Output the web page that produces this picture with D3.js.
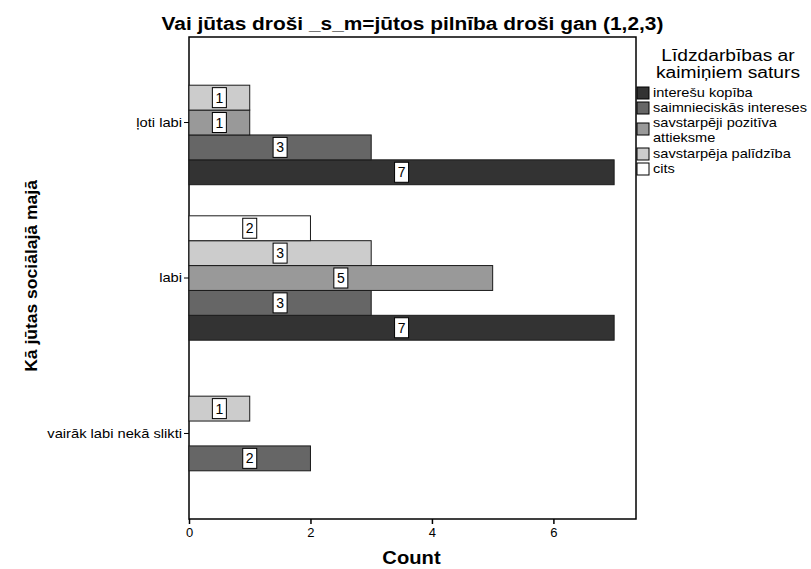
<!DOCTYPE html>
<html>
<head>
<meta charset="utf-8">
<script src="https://cdn.jsdelivr.net/npm/d3@7"></script>
<style>
  body { margin: 0; background: #fff; }
  svg { display: block; font-family: Arial, "Liberation Sans", sans-serif; }
</style>
</head>
<body>
<svg id="chart" width="811" height="569"></svg>
<script>
// Categories on the vertical axis
const categories = ["ļoti labi", "labi", "vairāk labi nekā slikti"];

// Series, listed in legend order (drawn bottom-up within each group)
const seriesNames = [
  "interešu kopība",
  "saimnieciskās intereses",
  "savstarpēji pozitīva attieksme",
  "savstarpēja palīdzība",
  "cits"
];
const seriesColors = ["#333333", "#666666", "#999999", "#cccccc", "#ffffff"];

// Counts per category (null = no bar)
const interesuKopiba     = [7, 7, null];
const saimnieciskas      = [3, 3, 2];
const pozitivaAttieksme  = [1, 5, null];
const savstarpejaPalidz  = [1, 3, 1];
const cits               = [null, 2, null];
const seriesValues = [interesuKopiba, saimnieciskas, pozitivaAttieksme, savstarpejaPalidz, cits];

const xTicks = [0, 2, 4, 6];

const FONT = "Arial, 'Liberation Sans', sans-serif";
const svg = d3.select("#chart");
const plot = { left: 189, right: 636, top: 37, bottom: 519 };

// Widen glyphs horizontally by factor k (keeps anchor behaviour)
function stretch(sel, k) {
  sel.each(function () {
    const w = this.getComputedTextLength();
    d3.select(this).attr("textLength", w * k).attr("lengthAdjust", "spacingAndGlyphs");
  });
}

const x = d3.scaleLinear().domain([0, 7.36]).range([plot.left, plot.right]);
const y = d3.scaleBand().domain(categories).range([plot.top, plot.bottom])
  .paddingInner(0.2).paddingOuter(0.15);
// within a group the last series sits on top
const ySub = d3.scaleBand().domain(seriesNames.slice().reverse()).range([0, y.bandwidth()]);

// Plot frame
svg.append("rect")
  .attr("x", plot.left).attr("y", plot.top)
  .attr("width", plot.right - plot.left).attr("height", plot.bottom - plot.top)
  .attr("fill", "none").attr("stroke", "#000").attr("stroke-width", 1.5);

// Bars
const barData = [];
seriesNames.forEach((s, si) => {
  categories.forEach((c, ci) => {
    const v = seriesValues[si][ci];
    if (v != null) barData.push({ series: s, cat: c, value: v, color: seriesColors[si] });
  });
});

const bars = svg.append("g");
bars.selectAll("rect").data(barData).join("rect")
  .attr("x", x(0))
  .attr("y", d => y(d.cat) + ySub(d.series))
  .attr("width", d => x(d.value) - x(0))
  .attr("height", ySub.bandwidth())
  .attr("fill", d => d.color)
  .attr("stroke", "#1a1a1a")
  .attr("stroke-width", 1);

// Value labels in white boxes
const labels = bars.selectAll("g.lbl").data(barData).join("g").attr("class", "lbl")
  .attr("transform", d => `translate(${x(d.value / 2)},${y(d.cat) + ySub(d.series) + ySub.bandwidth() / 2})`);
labels.append("rect")
  .attr("x", -7).attr("y", -10).attr("width", 14).attr("height", 20)
  .attr("fill", "#fff").attr("stroke", "#000").attr("stroke-width", 1);
labels.append("text")
  .attr("text-anchor", "middle").attr("dy", "0.36em")
  .attr("font-size", 14).attr("fill", "#000")
  .text(d => d.value);

// X axis
const xAxis = svg.append("g").attr("transform", `translate(0,${plot.bottom})`)
  .call(d3.axisBottom(x).tickValues(xTicks).tickSize(5).tickPadding(4).tickFormat(d3.format("d")));
xAxis.select(".domain").remove();
xAxis.selectAll("line").attr("stroke", "#000").attr("stroke-width", 1.5);
xAxis.selectAll("text").attr("font-size", 13).attr("font-family", FONT).attr("fill", "#000");

// Y axis
const yAxis = svg.append("g").attr("transform", `translate(${plot.left},0)`)
  .call(d3.axisLeft(y).tickSize(5).tickPadding(2));
yAxis.select(".domain").remove();
yAxis.selectAll("line").attr("stroke", "#000").attr("stroke-width", 1);
yAxis.selectAll("text").attr("font-size", 13).attr("font-family", FONT).attr("fill", "#000")
  .call(stretch, 1.13);

// Titles
svg.append("text")
  .attr("x", (plot.left + plot.right) / 2).attr("y", 30)
  .attr("text-anchor", "middle").attr("font-size", 18).attr("font-weight", "bold")
  .text("Vai jūtas droši _s_m=jūtos pilnība droši gan (1,2,3)")
  .call(stretch, 1.16);

svg.append("text")
  .attr("x", (plot.left + plot.right) / 2 - 1).attr("y", 564)
  .attr("text-anchor", "middle").attr("font-size", 18).attr("font-weight", "bold")
  .text("Count")
  .call(stretch, 1.12);

svg.append("text")
  .attr("transform", `translate(37,${(plot.top + plot.bottom) / 2 - 2}) rotate(-90)`)
  .attr("text-anchor", "middle").attr("font-size", 17).attr("font-weight", "bold")
  .text("Kā jūtas sociālajā majā")
  .call(stretch, 1.03);

// Legend
const legend = svg.append("g");
legend.append("text").attr("x", 728).attr("y", 61)
  .attr("text-anchor", "middle").attr("font-size", 16).text("Līdzdarbības ar")
  .call(stretch, 1.2);
legend.append("text").attr("x", 728).attr("y", 78)
  .attr("text-anchor", "middle").attr("font-size", 16).text("kaimiņiem saturs")
  .call(stretch, 1.2);

const legendItems = [
  { lines: ["interešu kopība"], y: 87, base: 97 },
  { lines: ["saimnieciskās intereses"], y: 102, base: 112 },
  { lines: ["savstarpēji pozitīva", "attieksme"], y: 123, base: 127 },
  { lines: ["savstarpēja palīdzība"], y: 148, base: 158 },
  { lines: ["cits"], y: 163, base: 173 }
];
legendItems.forEach((it, i) => {
  legend.append("rect")
    .attr("x", 637).attr("y", it.y).attr("width", 12).attr("height", 12)
    .attr("fill", seriesColors[i]).attr("stroke", "#000").attr("stroke-width", 1);
  it.lines.forEach((ln, li) => {
    legend.append("text")
      .attr("x", 653).attr("y", it.base + li * 15)
      .attr("font-size", it.lines.length > 1 ? 13 : 13.5).text(ln)
      .call(stretch, it.lines.length > 1 ? 1.12 : 1.08);
  });
});
</script>
</body>
</html>
